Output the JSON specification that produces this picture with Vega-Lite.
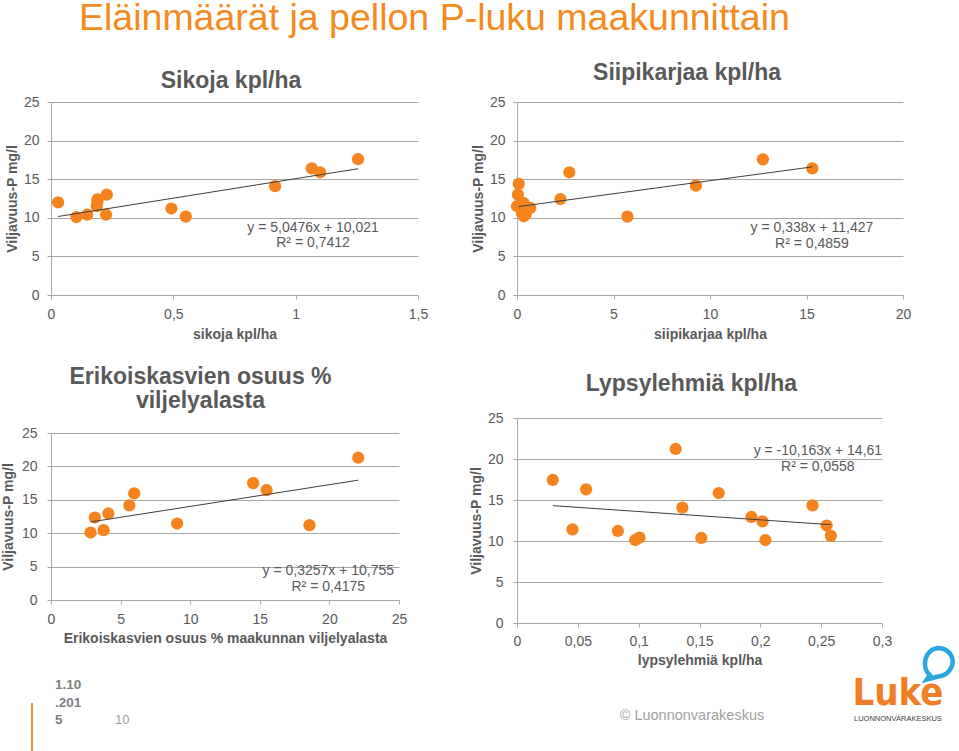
{
  "$schema": "https://vega.github.io/schema/vega-lite/v6.json",
  "autosize": {"type": "none"},
  "padding": {"left": 51, "top": 102, "right": 908, "bottom": 649},
  "background": "white",
  "title": {"text": "Eläinmäärät ja pellon P-luku maakunnittain", "anchor": "start", "frame": "group", "fontSize": 37.5, "fontWeight": "normal", "color": "#F38B1E", "baseline": "alphabetic", "offset": 0, "dx": 28, "dy": 5},
  "spacing": 41,
  "hconcat": [
    {
      "spacing": 25,
      "vconcat": [
        {
          "width": 367, "height": 193,
          "title": {"text": "Sikoja kpl/ha", "offset": 2, "dx": -3.5},
          "layer": [
            {
              "data": {"values": [
                {"x": 0.029, "y": 12.0}, {"x": 0.104, "y": 10.1}, {"x": 0.148, "y": 10.4}, {"x": 0.19, "y": 12.4},
                {"x": 0.187, "y": 11.5}, {"x": 0.19, "y": 12.1}, {"x": 0.228, "y": 13.0}, {"x": 0.225, "y": 10.4},
                {"x": 0.492, "y": 11.2}, {"x": 0.551, "y": 10.15}, {"x": 0.916, "y": 14.1}, {"x": 1.066, "y": 16.4},
                {"x": 1.10, "y": 15.9}, {"x": 1.255, "y": 17.6}
              ]},
              "mark": {"type": "circle", "size": 150, "color": "#F5841F", "opacity": 1},
              "encoding": {
                "x": {"field": "x", "type": "quantitative", "scale": {"domain": [0, 1.5], "nice": false, "zero": false},
                      "axis": {"title": "sikoja kpl/ha", "values": [0, 0.5, 1, 1.5], "labelExpr": "replace(format(datum.value, '~g'), '.', ',')", "titlePadding": 6}},
                "y": {"field": "y", "type": "quantitative", "scale": {"domain": [0, 25], "nice": false},
                      "axis": {"title": "Viljavuus-P mg/l", "values": [0, 5, 10, 15, 20, 25]}}
              }
            },
            {
              "data": {"values": [{"x": 0.029, "y": 10.167}, {"x": 1.255, "y": 16.356}]},
              "mark": {"type": "line", "color": "#3F3F3F", "strokeWidth": 1},
              "encoding": {"x": {"field": "x", "type": "quantitative"}, "y": {"field": "y", "type": "quantitative"}}
            },
            {
              "data": {"values": [{"x": 1.071, "y": 8.68, "label": "y = 5,0476x + 10,021"}, {"x": 1.071, "y": 6.74, "label": "R² = 0,7412"}]},
              "mark": {"type": "text", "fontSize": 14, "color": "#595959", "align": "center", "baseline": "middle"},
              "encoding": {"x": {"field": "x", "type": "quantitative"}, "y": {"field": "y", "type": "quantitative"}, "text": {"field": "label"}}
            }
          ]
        },
        {
          "width": 348, "height": 167,
          "title": {"text": ["Erikoiskasvien osuus %", "viljelyalasta"], "lineHeight": 24, "offset": 13, "dx": -24.5},
          "layer": [
            {
              "data": {"values": [
                {"x": 2.84, "y": 10.1}, {"x": 3.15, "y": 12.35}, {"x": 3.78, "y": 10.45}, {"x": 4.12, "y": 12.95},
                {"x": 5.63, "y": 14.15}, {"x": 5.98, "y": 15.95}, {"x": 9.06, "y": 11.45}, {"x": 14.52, "y": 17.5},
                {"x": 15.49, "y": 16.45}, {"x": 18.57, "y": 11.2}, {"x": 22.07, "y": 21.3}
              ]},
              "mark": {"type": "circle", "size": 150, "color": "#F5841F", "opacity": 1},
              "encoding": {
                "x": {"field": "x", "type": "quantitative", "scale": {"domain": [0, 25], "nice": false, "zero": false},
                      "axis": {"title": "Erikoiskasvien osuus % maakunnan viljelyalasta", "values": [0, 5, 10, 15, 20, 25], "titlePadding": 5}},
                "y": {"field": "y", "type": "quantitative", "scale": {"domain": [0, 25], "nice": false},
                      "axis": {"title": "Viljavuus-P mg/l", "values": [0, 5, 10, 15, 20, 25], "labelPadding": 10, "titlePadding": 6}}
              }
            },
            {
              "data": {"values": [{"x": 2.84, "y": 11.68}, {"x": 22.07, "y": 17.94}]},
              "mark": {"type": "line", "color": "#3F3F3F", "strokeWidth": 1},
              "encoding": {"x": {"field": "x", "type": "quantitative"}, "y": {"field": "y", "type": "quantitative"}}
            },
            {
              "data": {"values": [{"x": 19.92, "y": 4.34, "label": "y = 0,3257x + 10,755"}, {"x": 19.92, "y": 2.02, "label": "R² = 0,4175"}]},
              "mark": {"type": "text", "fontSize": 14, "color": "#595959", "align": "center", "baseline": "middle"},
              "encoding": {"x": {"field": "x", "type": "quantitative"}, "y": {"field": "y", "type": "quantitative"}, "text": {"field": "label"}}
            },
            {
              "data": {"values": [{"x": 0.29, "y": -13.32, "label": "1.10"}, {"x": 0.29, "y": -16.02, "label": ".201"}, {"x": 0.29, "y": -18.56, "label": "5"}]},
              "mark": {"type": "text", "fontSize": 13.5, "fontWeight": "bold", "color": "#7F7F7F", "align": "left", "baseline": "alphabetic"},
              "encoding": {"x": {"field": "x", "type": "quantitative"}, "y": {"field": "y", "type": "quantitative"}, "text": {"field": "label"}}
            },
            {
              "data": {"values": [{"x": 4.6, "y": -18.56, "label": "10"}]},
              "mark": {"type": "text", "fontSize": 13, "color": "#A0A0A0", "align": "left", "baseline": "alphabetic"},
              "encoding": {"x": {"field": "x", "type": "quantitative"}, "y": {"field": "y", "type": "quantitative"}, "text": {"field": "label"}}
            },
            {
              "data": {"values": [{"x": -1.365, "y": -15.42, "y2": -22.6}]},
              "mark": {"type": "rule", "color": "#E8963C", "strokeWidth": 2},
              "encoding": {"x": {"field": "x", "type": "quantitative"}, "y": {"field": "y", "type": "quantitative"}, "y2": {"field": "y2"}}
            }
          ]
        }
      ]
    },
    {
      "spacing": 32,
      "vconcat": [
        {
          "width": 386, "height": 193,
          "title": {"text": "Siipikarjaa kpl/ha", "offset": 10, "dx": -23},
          "layer": [
            {
              "data": {"values": [
                {"x": 0.09, "y": 14.4}, {"x": 0.05, "y": 13.0}, {"x": 0.0, "y": 11.5}, {"x": 0.35, "y": 11.9},
                {"x": 0.52, "y": 11.05}, {"x": 0.69, "y": 11.27}, {"x": 0.35, "y": 10.2}, {"x": 0.26, "y": 10.6},
                {"x": 0.45, "y": 10.45}, {"x": 2.25, "y": 12.43}, {"x": 2.71, "y": 15.9}, {"x": 5.72, "y": 10.15},
                {"x": 9.27, "y": 14.16}, {"x": 12.74, "y": 17.57}, {"x": 15.3, "y": 16.41}
              ]},
              "mark": {"type": "circle", "size": 150, "color": "#F5841F", "opacity": 1},
              "encoding": {
                "x": {"field": "x", "type": "quantitative", "scale": {"domain": [0, 20], "nice": false, "zero": false},
                      "axis": {"title": "siipikarjaa kpl/ha", "values": [0, 5, 10, 15, 20], "titlePadding": 6}},
                "y": {"field": "y", "type": "quantitative", "scale": {"domain": [0, 25], "nice": false},
                      "axis": {"title": "Viljavuus-P mg/l", "values": [0, 5, 10, 15, 20, 25]}}
              }
            },
            {
              "data": {"values": [{"x": 0.09, "y": 11.457}, {"x": 15.3, "y": 16.598}]},
              "mark": {"type": "line", "color": "#3F3F3F", "strokeWidth": 1},
              "encoding": {"x": {"field": "x", "type": "quantitative"}, "y": {"field": "y", "type": "quantitative"}}
            },
            {
              "data": {"values": [{"x": 15.28, "y": 8.68, "label": "y = 0,338x + 11,427"}, {"x": 15.28, "y": 6.67, "label": "R² = 0,4859"}]},
              "mark": {"type": "text", "fontSize": 14, "color": "#595959", "align": "center", "baseline": "middle"},
              "encoding": {"x": {"field": "x", "type": "quantitative"}, "y": {"field": "y", "type": "quantitative"}, "text": {"field": "label"}}
            }
          ]
        },
        {
          "width": 365, "height": 205,
          "title": {"text": "Lypsylehmiä kpl/ha", "offset": 15, "dx": -8},
          "layer": [
            {
              "data": {"values": [
                {"x": 0.0294, "y": 17.44}, {"x": 0.0456, "y": 11.42}, {"x": 0.0568, "y": 16.3}, {"x": 0.0829, "y": 11.22},
                {"x": 0.0972, "y": 10.12}, {"x": 0.1007, "y": 10.41}, {"x": 0.1304, "y": 21.22}, {"x": 0.1359, "y": 14.07},
                {"x": 0.1515, "y": 10.37}, {"x": 0.1658, "y": 15.85}, {"x": 0.1927, "y": 12.93}, {"x": 0.2018, "y": 12.4},
                {"x": 0.2042, "y": 10.12}, {"x": 0.2429, "y": 14.35}, {"x": 0.2545, "y": 11.89}, {"x": 0.258, "y": 10.63}
              ]},
              "mark": {"type": "circle", "size": 150, "color": "#F5841F", "opacity": 1},
              "encoding": {
                "x": {"field": "x", "type": "quantitative", "scale": {"domain": [0, 0.3], "nice": false, "zero": false},
                      "axis": {"title": "lypsylehmiä kpl/ha", "values": [0, 0.05, 0.1, 0.15, 0.2, 0.25, 0.3], "labelExpr": "replace(format(datum.value, '~g'), '.', ',')", "labelPadding": 7, "titlePadding": 5}},
                "y": {"field": "y", "type": "quantitative", "scale": {"domain": [0, 25], "nice": false},
                      "axis": {"title": "Viljavuus-P mg/l", "values": [0, 5, 10, 15, 20, 25], "labelPadding": 10}}
              }
            },
            {
              "data": {"values": [{"x": 0.0294, "y": 14.311}, {"x": 0.258, "y": 11.988}]},
              "mark": {"type": "line", "color": "#3F3F3F", "strokeWidth": 1},
              "encoding": {"x": {"field": "x", "type": "quantitative"}, "y": {"field": "y", "type": "quantitative"}}
            },
            {
              "data": {"values": [{"x": 0.2473, "y": 21.0, "label": "y = -10,163x + 14,61"}, {"x": 0.2473, "y": 19.06, "label": "R² = 0,0558"}]},
              "mark": {"type": "text", "fontSize": 14, "color": "#595959", "align": "center", "baseline": "middle"},
              "encoding": {"x": {"field": "x", "type": "quantitative"}, "y": {"field": "y", "type": "quantitative"}, "text": {"field": "label"}}
            },
            {
              "data": {"values": [{"x": 0.1438, "y": -11.89, "label": "© Luonnonvarakeskus"}]},
              "mark": {"type": "text", "fontSize": 14.5, "color": "#A0A0A0", "align": "center", "baseline": "alphabetic"},
              "encoding": {"x": {"field": "x", "type": "quantitative"}, "y": {"field": "y", "type": "quantitative"}, "text": {"field": "label"}}
            },
            {
              "data": {"values": [{"x": 0.3131, "y": -10.0, "label": "Luke"}]},
              "mark": {"type": "text", "fontSize": 38, "font": "DejaVu Sans Condensed", "fontWeight": "bold", "color": "#F07E26", "align": "center", "baseline": "alphabetic"},
              "encoding": {"x": {"field": "x", "type": "quantitative"}, "y": {"field": "y", "type": "quantitative"}, "text": {"field": "label"}}
            },
            {
              "data": {"values": [{"x": 0.3131, "y": -11.91, "label": "LUONNONVARAKESKUS"}]},
              "mark": {"type": "text", "fontSize": 7.5, "color": "#404040", "align": "center", "baseline": "alphabetic"},
              "encoding": {"x": {"field": "x", "type": "quantitative"}, "y": {"field": "y", "type": "quantitative"}, "text": {"field": "label"}}
            },
            {
              "data": {"values": [{"x": 0.346, "y": -4.88}]},
              "mark": {"type": "point", "shape": "M -0.55,0.8 C -1,0.4 -1,-0.5 -0.35,-0.9 C 0.2,-1.15 0.85,-0.85 0.97,-0.25 C 1.05,0.35 0.6,0.85 0,0.9 L -0.75,1.1 Z", "size": 900, "filled": false, "stroke": "#2AA7DF", "strokeWidth": 4.5, "opacity": 1},
              "encoding": {"x": {"field": "x", "type": "quantitative"}, "y": {"field": "y", "type": "quantitative"}}
            }
          ]
        }
      ]
    }
  ],
  "config": {
    "font": "Liberation Sans",
    "view": {"stroke": null},
    "title": {"font": "Liberation Sans", "fontSize": 23, "fontWeight": "bold", "color": "#595959", "anchor": "middle", "baseline": "alphabetic"},
    "axis": {
      "labelFont": "Liberation Sans", "labelFontSize": 14, "labelColor": "#595959",
      "titleFont": "Liberation Sans", "titleFontSize": 14, "titleFontWeight": "bold", "titleColor": "#595959",
      "domainColor": "#A8A8A8", "tickColor": "#A8A8A8", "gridColor": "#A8A8A8",
      "tickSize": 4, "labelPadding": 8, "titlePadding": 4
    },
    "axisX": {"grid": false, "labelFlush": false, "labelOverlap": false, "tickCount": 12},
    "axisY": {"grid": true, "labelOverlap": false, "tickCount": 12}
  }
}
